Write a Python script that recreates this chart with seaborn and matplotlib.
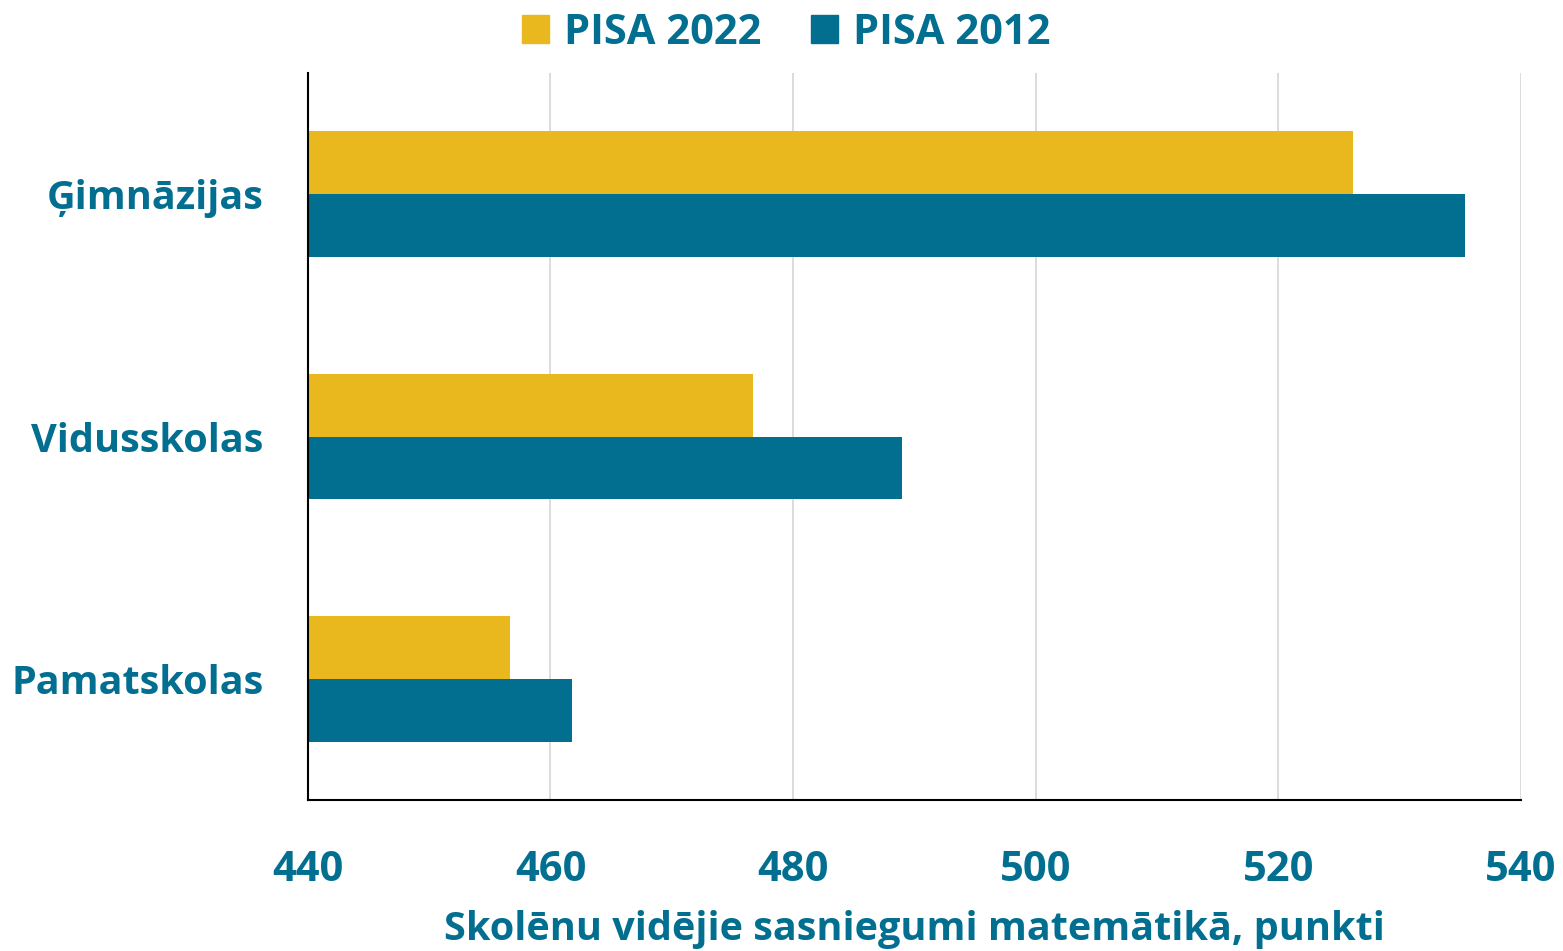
import pandas as pd
import seaborn as sns
import matplotlib.pyplot as plt
from matplotlib.patches import Patch

schools = ["Ģimnāzijas", "Vidusskolas", "Pamatskolas"]
pisa_2022 = [526.2, 476.7, 456.7]
pisa_2012 = [535.4, 489.0, 461.8]
series = ["PISA 2022", "PISA 2012"]
xticks = [440, 460, 480, 500, 520, 540]

gold = "#E8B81E"
teal = "#026F91"

df = pd.DataFrame({
    "school": schools * 2,
    "score": pisa_2022 + pisa_2012,
    "year": [series[0]] * 3 + [series[1]] * 3,
})

sns.set_style("white")
plt.rcParams["font.family"] = ["Open Sans", "DejaVu Sans"]
plt.rcParams["font.weight"] = "bold"

fig = plt.figure(figsize=(15.63, 9.51), dpi=100)
ax = fig.add_axes([0.197, 0.159, 0.776, 0.764])

sns.barplot(
    data=df, x="score", y="school", hue="year",
    hue_order=series, palette=[gold, teal],
    orient="h", width=0.52, saturation=1, legend=False, ax=ax,
    linewidth=0,
)

ax.set_xlim(440, 540)
ax.set_ylim(2.5, -0.5)
ax.set_xticks(xticks)
ax.xaxis.grid(True, color="#D9D9D9", linewidth=1.3)
ax.set_axisbelow(True)

for side in ["top", "right"]:
    ax.spines[side].set_visible(False)
for side in ["left", "bottom"]:
    ax.spines[side].set_color("black")
    ax.spines[side].set_linewidth(1.5)

ax.tick_params(axis="x", length=0, pad=36, labelsize=30, labelcolor=teal)
ax.tick_params(axis="y", length=0, pad=32, labelsize=28.5, labelcolor=teal)
for lbl in ax.get_xticklabels() + ax.get_yticklabels():
    lbl.set_fontweight("bold")

ax.set_ylabel("")
ax.set_xlabel("Skolēnu vidējie sasniegumi matemātikā, punkti",
              fontsize=28.5, fontweight="bold", color=teal, labelpad=14)

handles = [Patch(color=gold), Patch(color=teal)]
leg = fig.legend(handles, series, loc="upper center", bbox_to_anchor=(0.503, 1.026),
                 ncol=2, frameon=False, fontsize=30, handlelength=0.65,
                 handleheight=0.65, handletextpad=0.35, columnspacing=1.2)
for t in leg.get_texts():
    t.set_color(teal)
    t.set_fontweight("bold")

fig.savefig("out.png", dpi=100)
